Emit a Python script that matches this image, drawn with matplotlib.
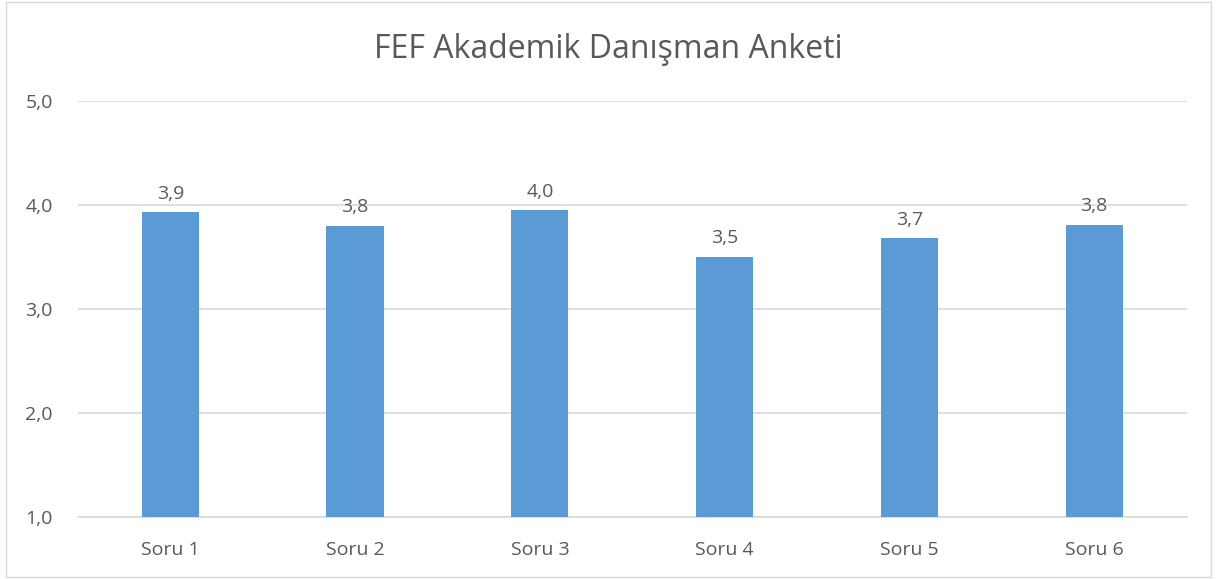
import matplotlib

matplotlib.use("Agg")
import matplotlib.pyplot as plt
from matplotlib.patches import Rectangle

categories = ["Soru 1", "Soru 2", "Soru 3", "Soru 4", "Soru 5", "Soru 6"]
values = [3.93, 3.80, 3.95, 3.50, 3.68, 3.81]
labels = ["3,9", "3,8", "4,0", "3,5", "3,7", "3,8"]
yticks = [1.0, 2.0, 3.0, 4.0, 5.0]
ytick_labels = ["1,0", "2,0", "3,0", "4,0", "5,0"]

TEXT = "#595959"
plt.rcParams["font.family"] = ["Open Sans", "DejaVu Sans"]

fig = plt.figure(figsize=(12.17, 5.79), dpi=100)
ax = fig.add_axes([0.064, 0.107, 0.911, 0.719])

x = range(len(categories))
ax.bar(x, values, width=0.31, bottom=0, color="#5b9bd5", zorder=3)
for xi, v, lab in zip(x, values, labels):
    ax.text(xi, v + 0.09, lab, ha="center", va="bottom", fontsize=14, color=TEXT)

ax.set_ylim(1, 5)
ax.set_xlim(-0.5, len(categories) - 0.5)
ax.set_yticks(yticks)
ax.set_yticklabels(ytick_labels)
ax.set_xticks(list(x))
ax.set_xticklabels(categories)
ax.tick_params(axis="both", length=0, labelsize=14, colors=TEXT)
ax.tick_params(axis="y", pad=18)
ax.tick_params(axis="x", pad=17)
ax.grid(axis="y", color="#d9d9d9", linewidth=1.2, zorder=0)
for s in ["top", "right", "left"]:
    ax.spines[s].set_visible(False)
ax.spines["bottom"].set_color("#d9d9d9")
ax.spines["bottom"].set_linewidth(1.2)

fig.text(0.5, 0.915, "FEF Akademik Danışman Anketi", ha="center", va="center",
         fontsize=23, color=TEXT)
fig.patches.append(Rectangle((0.005, 0.003), 0.99, 0.994, transform=fig.transFigure,
                             fill=False, edgecolor="#d9d9d9", linewidth=1))

fig.savefig("out.png", dpi=100)
